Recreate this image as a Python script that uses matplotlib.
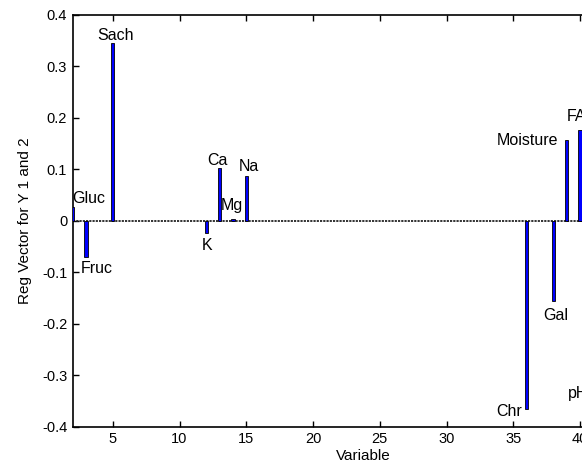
import matplotlib

matplotlib.use("Agg")

import matplotlib.pyplot as plt

plt.rcParams["font.family"] = ["Liberation Sans", "DejaVu Sans"]

# regression vector, one value per variable
variables = [2, 3, 5, 12, 13, 14, 15, 36, 38, 39, 40, 41]
coefs = [0.027, -0.071, 0.345, -0.024, 0.103, 0.004, 0.087,
         -0.366, -0.156, 0.157, 0.177, -0.31]

# variable names written next to the bars
names = ["Gluc", "Fruc", "Sach", "K", "Ca", "Mg", "Na",
         "Chr", "Gal", "Moisture", "FA", "pH"]
name_x = [1.95, 2.62, 5.21, 12.04, 12.84, 13.92, 15.16,
          34.7, 38.2, 38.4, 39.0, 39.13]
name_y = [0.044, -0.092, 0.36, -0.047, 0.118, 0.030, 0.105,
          -0.371, -0.184, 0.157, 0.202, -0.335]
name_ha = ["left", "left", "center", "center", "center", "center", "center",
           "center", "center", "right", "left", "left"]

x_ticks = [5, 10, 15, 20, 25, 30, 35, 40, 45]
y_ticks = [-0.4, -0.3, -0.2, -0.1, 0, 0.1, 0.2, 0.3, 0.4]

fig = plt.figure(figsize=(5.82, 4.67), dpi=100)
fig.patch.set_facecolor("white")
# axes run past the right edge of the picture, as in the original crop
ax = fig.add_axes([0.125, 0.0863, 1.0, 0.8816])

ax.bar(variables, coefs, width=0.25, color="#0000ff", edgecolor="black",
       linewidth=0.6, zorder=3)
ax.axhline(0, color="#222222", linewidth=1.3, linestyle=(0, (1.2, 0.6)), zorder=2)

for t, x, y, ha in zip(names, name_x, name_y, name_ha):
    ax.text(x, y, t, ha=ha, va="center", fontsize=11.5, zorder=4)

ax.set_xlim(2, 45.6)
ax.set_ylim(-0.4, 0.4)
ax.set_xticks(x_ticks)
ax.set_yticks(y_ticks)
ax.set_yticklabels([f"{v:g}" for v in y_ticks])
ax.tick_params(direction="in", length=4, width=1, labelsize=10.5,
               top=True, right=True, pad=4)
for s in ax.spines.values():
    s.set_linewidth(1.2)

ax.set_xlabel("Variable", fontsize=11, labelpad=2)
ax.set_ylabel("Reg Vector for Y 1 and 2", fontsize=11, labelpad=7)

fig.savefig("out.png", dpi=100, facecolor="white")
